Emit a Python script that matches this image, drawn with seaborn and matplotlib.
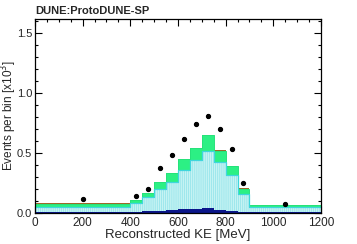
import numpy as np
import pandas as pd
import matplotlib
matplotlib.use("Agg")
import matplotlib.pyplot as plt
import seaborn as sns
from matplotlib.ticker import MultipleLocator

# ---- data (units of 10^3 events per bin) ----
bin_edges = [0, 400, 450, 500, 550, 600, 650, 700, 750, 800, 850, 900, 1200]
navy_vals  = [0.010, 0.012, 0.015, 0.015, 0.025, 0.033, 0.033, 0.040, 0.028, 0.020, 0.008, 0.006]
cyan_vals  = [0.042, 0.069, 0.116, 0.183, 0.236, 0.325, 0.409, 0.479, 0.400, 0.297, 0.148, 0.047]
green_vals = [0.026, 0.024, 0.033, 0.060, 0.070, 0.092, 0.102, 0.131, 0.094, 0.075, 0.046, 0.014]
brown_vals = [0.003, 0.004, 0.000, 0.004, 0.000, 0.000, 0.000, 0.000, 0.004, 0.000, 0.004, 0.000]

data_x   = [200, 425, 475, 525, 575, 625, 675, 725, 775, 825, 875, 1050]
data_y   = [0.114, 0.144, 0.198, 0.373, 0.483, 0.617, 0.742, 0.808, 0.700, 0.531, 0.248, 0.078]
data_err = [0.010, 0.010, 0.012, 0.014, 0.015, 0.017, 0.018, 0.019, 0.018, 0.016, 0.012, 0.008]

x_ticks = [0, 200, 400, 600, 800, 1000, 1200]
y_ticks = [0.0, 0.5, 1.0, 1.5]

sns.set_theme(style="ticks")
plt.rcParams["font.family"] = ["Liberation Sans", "DejaVu Sans"]
plt.rcParams["hatch.linewidth"] = 0.5

edges = [float(e) for e in bin_edges]
centers = [0.5 * (a + b) for a, b in zip(edges[:-1], edges[1:])]
n1 = np.array(navy_vals)
n2 = n1 + np.array(cyan_vals)
n3 = n2 + np.array(green_vals)
n4 = n3 + np.array(brown_vals)

fig = plt.figure(figsize=(3.57, 2.44), dpi=100)
ax = fig.add_axes([0.098, 0.127, 0.801, 0.795])

layers = [
    (n4, "#9a6a2a", None),
    (n3, "#2cf084", None),
    (n2, "#c6f3f3", "||||||||"),
    (n1, "#0b168a", None),
]
for cum, col, hatch in layers:
    df = pd.DataFrame({"x": centers, "w": cum})
    sns.histplot(data=df, x="x", weights="w", bins=edges, element="step",
                 fill=True, color=col, alpha=1.0, linewidth=0, ax=ax)
    poly = ax.collections[-1]
    poly.set_facecolor(col)
    if hatch:
        poly.set_hatch(hatch)
        poly.set_edgecolor("#8ee2ea")
        poly.set_linewidth(0)

# outlines
for cum, col, lw in [(n3, "#26e27a", 0.7), (n2, "#3ed6dc", 0.9)]:
    df = pd.DataFrame({"x": centers, "w": cum})
    sns.histplot(data=df, x="x", weights="w", bins=edges, element="step",
                 fill=False, color=col, linewidth=lw, ax=ax)

# data points
ax.errorbar(data_x, data_y, yerr=data_err, fmt="o", color="black",
            markersize=2.8, elinewidth=1.3, capsize=0, zorder=10)

ax.set_xlim(0, 1200)
ax.set_ylim(0, 1.62)
ax.set_xticks(x_ticks)
ax.set_yticks(y_ticks)
ax.set_yticklabels([f"{v:.1f}" for v in y_ticks])
ax.xaxis.set_minor_locator(MultipleLocator(50))
ax.yaxis.set_minor_locator(MultipleLocator(0.1))
ax.tick_params(which="both", direction="in", top=True, right=True, labelsize=8.5, pad=3, width=0.8, color="black")
ax.tick_params(axis="y", labelsize=8, pad=2)
ax.tick_params(which="major", length=5)
ax.tick_params(which="minor", length=2.5)
for s in ax.spines.values():
    s.set_linewidth(0.9)
    s.set_color("black")

ax.set_xlabel("Reconstructed KE [MeV]", fontsize=9.5)
ax.set_ylabel("Events per bin [x10$^3$]", fontsize=8.5)
ax.xaxis.set_label_coords(0.5, -0.08)
ax.yaxis.set_label_coords(-0.057, 0.5)
fig.text(0.098, 0.935, "DUNE:ProtoDUNE-SP", fontsize=8, fontweight="bold", ha="left", va="bottom")

fig.savefig("out.png", dpi=100)
